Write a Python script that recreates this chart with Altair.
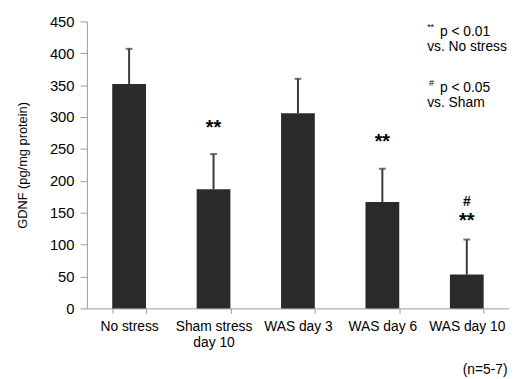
import altair as alt
import pandas as pd

categories = ["No stress", "Sham stress|day 10", "WAS day 3", "WAS day 6", "WAS day 10"]
means = [352, 187, 306, 167, 53]
upper = [407, 242, 360, 219, 108]

sig_cats = ["Sham stress|day 10", "WAS day 6", "WAS day 10", "WAS day 10"]
sig_text = ["**", "**", "**", "#"]
sig_y = [274, 251, 127, 160]
sig_size = [20, 20, 20, 14]

FONT = "Liberation Sans"

df = pd.DataFrame({"cat": categories, "mean": means, "upper": upper})
sig = pd.DataFrame({"cat": sig_cats, "text": sig_text, "y": sig_y, "size": sig_size})

xaxis = alt.Axis(title=None, labelAngle=0, labelFontSize=14, labelFont=FONT,
                 labelColor="black", labelExpr="split(datum.label, '|')",
                 labelLineHeight=17, labelPadding=6, tickBand="extent",
                 tickSize=5, tickColor="#9a9a9a", domainColor="#9a9a9a",
                 labelBaseline="top")
yaxis = alt.Axis(title="GDNF  (pg/mg protein)", values=list(range(0, 451, 50)),
                 grid=False, labelFontSize=15, labelFont=FONT, labelColor="black",
                 labelOverlap=False, labelFlush=False,
                 tickSize=7, tickColor="#9a9a9a", domainColor="#9a9a9a",
                 labelPadding=6, titleFont=FONT, titleFontSize=13,
                 titleFontWeight="normal", titleColor="black", titlePadding=20)
xscale = alt.Scale(paddingInner=0.6, paddingOuter=0.3)
yscale = alt.Scale(domain=[0, 450], nice=False)

def X():
    return alt.X("cat:N", sort=categories, scale=xscale, axis=xaxis)

def Y(field):
    return alt.Y(field, scale=yscale, axis=yaxis)

base = alt.Chart(df)
bars = base.mark_bar(color="#2a2a2a").encode(x=X(), y=Y("mean:Q"))
rule = base.mark_rule(color="#3a3a3a", strokeWidth=2).encode(
    x=X(), y=Y("mean:Q"), y2="upper:Q")
cap = base.mark_tick(color="#3a3a3a", thickness=2, size=7).encode(
    x=X(), y=Y("upper:Q"))

stars = alt.Chart(sig).mark_text(font=FONT, fontWeight="bold", color="black",
                                 baseline="alphabetic").encode(
    x=X(), y=Y("y:Q"), text="text:N",
    size=alt.Size("size:Q", scale=None, legend=None))

notes_txt = ["**", "p < 0.01", "vs. No stress", "#", "p < 0.05", "vs. Sham", "(n=5-7)"]
notes_x = [345, 358, 345, 347, 358, 345, 381]
notes_y = [6, 11, 26, 63, 68, 83, 354]
notes_size = [9, 14, 14, 9, 14, 14, 14]
notes = pd.DataFrame({"t": notes_txt, "px": notes_x, "py": notes_y, "s": notes_size})
ann = alt.Chart(notes).mark_text(font=FONT, color="black", align="left",
                                 baseline="middle").encode(
    x=alt.X("px:Q", scale=None), y=alt.Y("py:Q", scale=None),
    text="t:N", size=alt.Size("s:Q", scale=None, legend=None))

chart = alt.layer(bars, rule, cap, stars, ann).properties(
    width=428, height=291,
    autosize=alt.AutoSizeParams(type="none"),
    padding={"left": 80, "top": 11, "right": 0, "bottom": 69},
).configure_view(stroke=None)

chart.save("out.html", embed_options={"renderer": "svg", "actions": False})
